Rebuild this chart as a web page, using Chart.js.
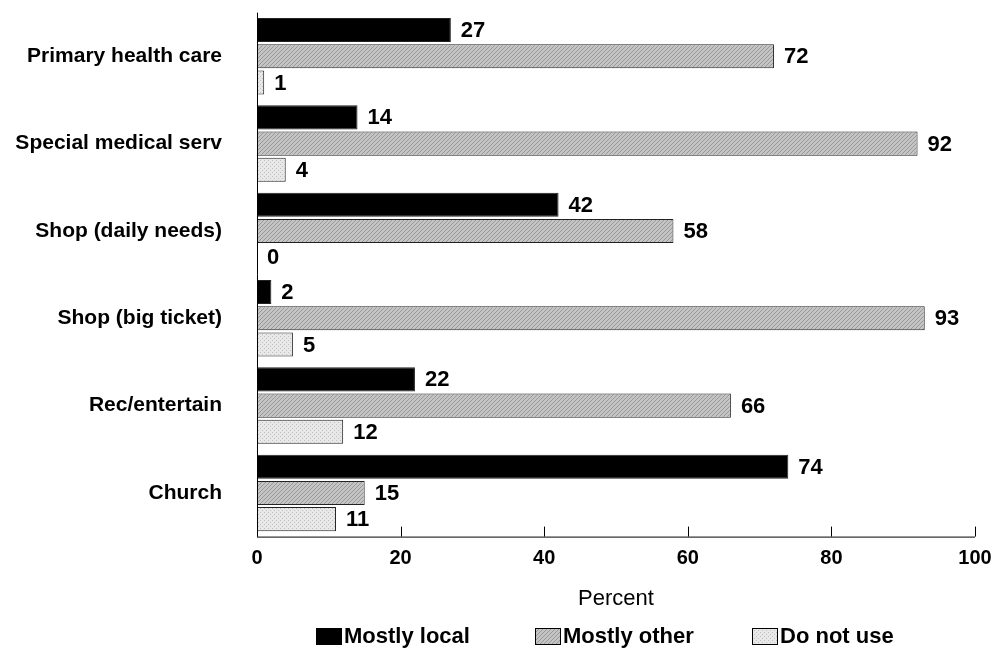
<!DOCTYPE html>
<html>
<head>
<meta charset="utf-8">
<script src="https://cdn.jsdelivr.net/npm/chart.js@4"></script>
<style>
	body { margin: 0; background: #fff; }
	#wrap { width: 1006px; height: 650px; }
</style>
</head>
<body>
<div id="wrap"><canvas id="chart"></canvas></div>
<script>
// values
const categories = ['Primary health care', 'Special medical serv', 'Shop (daily needs)', 'Shop (big ticket)', 'Rec/entertain', 'Church'];
const mostlyLocal = [27, 14, 42, 2, 22, 74];
const mostlyOther = [72, 92, 58, 93, 66, 15];
const doNotUse = [1, 4, 0, 5, 12, 11];
const seriesNames = ['Mostly local', 'Mostly other', 'Do not use'];
const xTicks = [0, 20, 40, 60, 80, 100];

const fontFam = '"Liberation Sans", Arial, sans-serif';

function makePattern(bg, fg, kind) {
	let c = document.createElement('canvas');
	c.width = 4; c.height = 4;
	let g = c.getContext('2d');
	g.fillStyle = bg;
	g.fillRect(0, 0, 4, 4);
	g.fillStyle = fg;
	if (kind === 'diag') {
		for (let i = 0; i < 4; i++) g.fillRect(i, 3 - i, 1, 1);
	} else {
		g.fillRect(0, 0, 1, 1);
		g.fillRect(2, 2, 1, 1);
	}
	return document.getElementById('chart').getContext('2d').createPattern(c, 'repeat');
}

const fills = ['#000000', makePattern('#c4c4c4', '#999999', 'diag'), makePattern('#e8e8e8', '#c0c0c0', 'dots')];

const extras = {
	id: 'extras',
	afterDatasetsDraw(chart) {
		const ctx = chart.ctx;
		const xs = chart.scales.x;
		ctx.save();
		ctx.font = 'bold 22px ' + fontFam;
		ctx.fillStyle = '#000';
		ctx.textBaseline = 'middle';
		ctx.textAlign = 'left';
		chart.data.datasets.forEach(function (ds, i) {
			chart.getDatasetMeta(i).data.forEach(function (bar, j) {
				ctx.fillText(String(ds.data[j]), bar.x + 10, bar.y + 1);
			});
		});
		// tick marks pointing up from the axis
		ctx.strokeStyle = '#000';
		ctx.lineWidth = 1;
		const yb = chart.chartArea.bottom;
		xTicks.forEach(function (t) {
			let px = Math.round(xs.getPixelForValue(t)) + 0.5;
			ctx.beginPath();
			ctx.moveTo(px, yb);
			ctx.lineTo(px, yb - 10);
			ctx.stroke();
		});
		ctx.beginPath();
		ctx.moveTo(chart.chartArea.left, yb + 0.5);
		ctx.lineTo(chart.chartArea.right, yb + 0.5);
		ctx.moveTo(chart.chartArea.left + 0.5, chart.chartArea.top);
		ctx.lineTo(chart.chartArea.left + 0.5, yb);
		ctx.stroke();
		// legend
		const legendX = [316, 535, 752];
		const ly = 636;
		ctx.font = 'bold 22px ' + fontFam;
		seriesNames.forEach(function (name, i) {
			ctx.fillStyle = fills[i];
			ctx.fillRect(legendX[i], ly - 8, 26, 17);
			ctx.strokeStyle = '#000';
			ctx.strokeRect(legendX[i] + 0.5, ly - 7.5, 25, 16);
			ctx.fillStyle = '#000';
			ctx.fillText(name, legendX[i] + 28, ly + 1);
		});
		ctx.restore();
	}
};

new Chart(document.getElementById('chart').getContext('2d'), {
	type: 'bar',
	data: {
		labels: categories,
		datasets: seriesNames.map(function (name, i) {
			return {
				label: name,
				data: [mostlyLocal, mostlyOther, doNotUse][i],
				backgroundColor: fills[i],
				borderColor: '#222',
				borderWidth: 1,
				borderSkipped: false,
				barPercentage: 0.92,
				categoryPercentage: 0.9
			};
		})
	},
	options: {
		indexAxis: 'y',
		responsive: true,
		maintainAspectRatio: false,
		animation: false,
		layout: { padding: { top: 12, right: 31, bottom: 38, left: 0 } },
		plugins: {
			legend: { display: false },
			tooltip: { enabled: false }
		},
		scales: {
			x: {
				min: 0,
				max: 100,
				ticks: {
					stepSize: 20,
					padding: 10,
					color: '#000',
					font: { family: fontFam, size: 20, weight: 'bold' }
				},
				grid: { display: false, drawTicks: false },
				border: { display: false },
				title: {
					display: true,
					text: 'Percent',
					color: '#000',
					padding: { top: 5, bottom: 0 },
					font: { family: fontFam, size: 22 }
				}
			},
			y: {
				afterFit: function (scale) { scale.width = 257; },
				ticks: {
					padding: 0,
					color: '#000',
					font: { family: fontFam, size: 21, weight: 'bold' }
				},
				grid: { display: true, drawOnChartArea: false, drawTicks: true, tickLength: 35, tickColor: 'rgba(0,0,0,0)' },
				border: { display: false }
			}
		}
	},
	plugins: [extras]
});
</script>
</body>
</html>
